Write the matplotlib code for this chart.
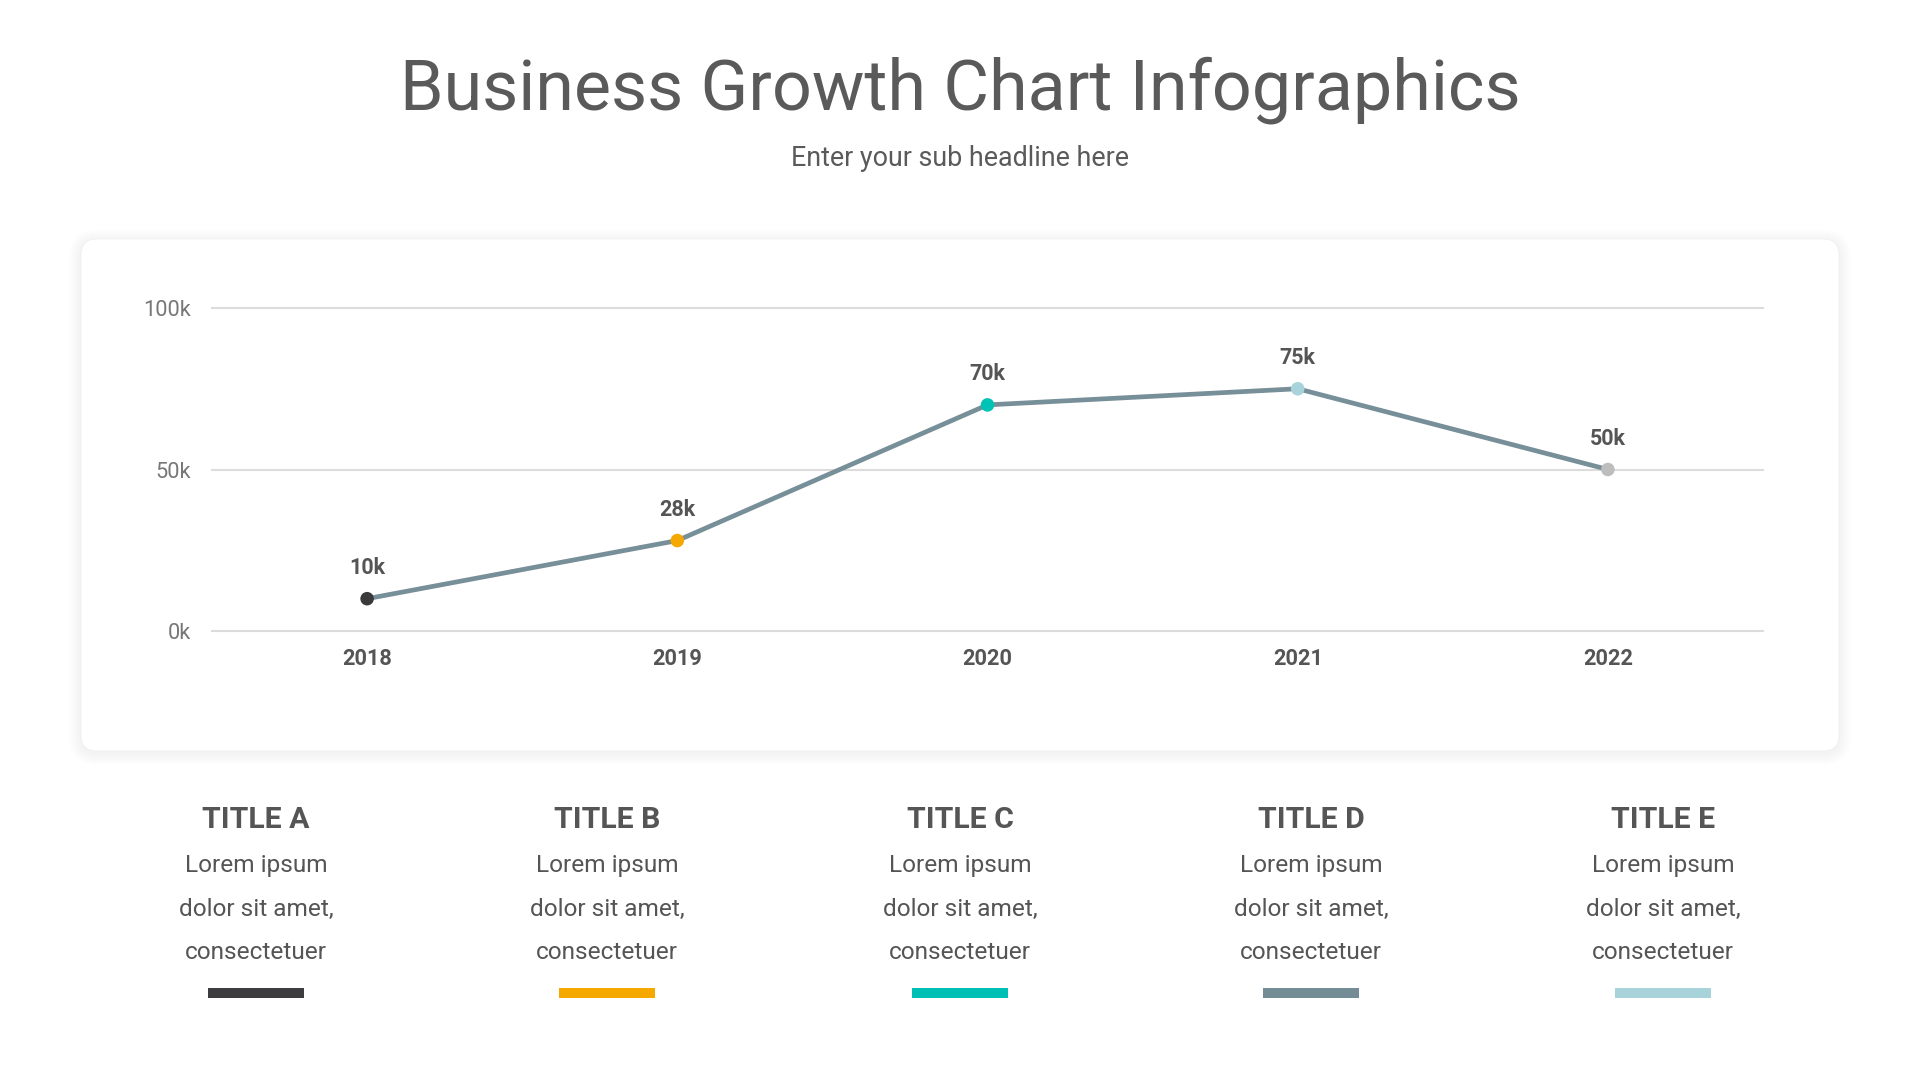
import matplotlib
matplotlib.use("Agg")
import matplotlib.pyplot as plt
from matplotlib.patches import FancyBboxPatch, Rectangle

plt.rcParams['font.family'] = ['Roboto', 'DejaVu Sans']

# ---- data ----
years = ["2018", "2019", "2020", "2021", "2022"]
values = [10000, 28000, 70000, 75000, 50000]
value_labels = ["10k", "28k", "70k", "75k", "50k"]
point_colors = ["#3a3a3c", "#f5a800", "#00c2b5", "#a9d3da", "#bdbdbd"]
y_ticks = [0, 50000, 100000]
y_tick_labels = ["0k", "50k", "100k"]

titles = ["TITLE A", "TITLE B", "TITLE C", "TITLE D", "TITLE E"]
body_lines = ["Lorem ipsum", "dolor sit amet,", "consectetuer"]
bar_colors = ["#3d3d3f", "#f5a800", "#00c0b5", "#738c96", "#a9d3da"]

W, H = 1920, 1080
fig = plt.figure(figsize=(W / 100, H / 100), dpi=100)
fig.patch.set_facecolor("white")

# background overlay axes in pixel coords
bg = fig.add_axes([0, 0, 1, 1])
bg.set_xlim(0, W)
bg.set_ylim(H, 0)
bg.axis("off")
bg.set_zorder(0)

# soft card shadow
cx0, cy0, cw, ch = 81, 239, 1758, 512
for g in range(12, 0, -1):
    bg.add_patch(FancyBboxPatch((cx0 - g, cy0 - g + 2), cw + 2 * g, ch + 2 * g,
                                boxstyle="round,pad=0,rounding_size=%d" % (16 + g),
                                facecolor="black", edgecolor="none", alpha=0.005))
bg.add_patch(FancyBboxPatch((cx0, cy0), cw, ch,
                            boxstyle="round,pad=0,rounding_size=16",
                            facecolor="white", edgecolor="#f0f0f0", linewidth=0.6))

# header
bg.text(960, 90, "Business Growth Chart Infographics", ha="center", va="center",
        fontsize=50.4, color="#5a5a5a")
bg.text(960, 159, "Enter your sub headline here", ha="center", va="center",
        fontsize=19.4, color="#5a5a5a")

# chart axes
left, right, top, bottom = 212, 1763, 308, 631
ax = fig.add_axes([left / W, 1 - bottom / H, (right - left) / W, (bottom - top) / H])
ax.set_zorder(2)
ax.patch.set_alpha(0)
x = list(range(len(years)))
ax.set_xlim(-0.5, len(years) - 0.5)
ax.set_ylim(0, 100000)
for yt in y_ticks:
    ax.axhline(yt, color="#dcdcdc", linewidth=1.5, zorder=1, clip_on=False)
ax.plot(x, values, color="#778f99", linewidth=3.4, zorder=3, solid_capstyle="round")
ax.scatter(x, values, s=95, c=point_colors, zorder=4, edgecolors="none")
for xi, v, lab in zip(x, values, value_labels):
    ax.annotate(lab, (xi, v), xytext=(0, 22), textcoords="offset points",
                ha="center", va="center", fontsize=15.5, fontweight="bold", color="#555555")
ax.set_yticks(y_ticks)
ax.set_yticklabels(y_tick_labels, fontsize=15.7, color="#777777")
ax.set_xticks(x)
ax.set_xticklabels(years, fontsize=15.7, fontweight="bold", color="#555555")
ax.tick_params(axis="both", length=0)
ax.tick_params(axis="y", pad=15)
ax.tick_params(axis="x", pad=12)
for s in ax.spines.values():
    s.set_visible(False)

# bottom columns
col_x = [256, 607, 960, 1311, 1663]
for cx, t, c in zip(col_x, titles, bar_colors):
    bg.text(cx, 820, t, ha="center", va="center", fontsize=21.8, fontweight="bold", color="#555555")
    for j, line in enumerate(body_lines):
        bg.text(cx, 865.5 + j * 43.5, line, ha="center", va="center", fontsize=17.6, color="#555555")
    bg.add_patch(Rectangle((cx - 48, 988), 96, 10, facecolor=c, edgecolor="none"))

fig.savefig("out.png", dpi=100, facecolor="white")
